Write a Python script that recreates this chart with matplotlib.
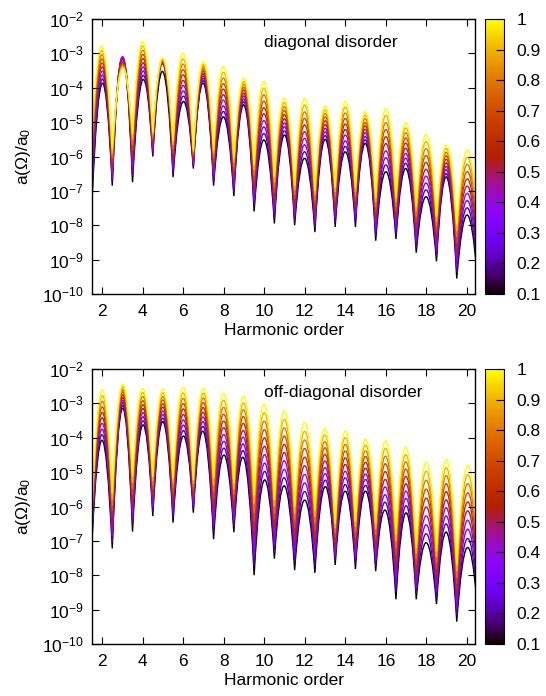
import numpy as np
import matplotlib
matplotlib.use("Agg")
import matplotlib.pyplot as plt
from matplotlib.path import Path
from matplotlib.patches import PathPatch
from matplotlib import colors, cm, ticker

plt.rcParams['font.family'] = ['Liberation Sans', 'DejaVu Sans']
plt.rcParams['mathtext.fontset'] = 'custom'
plt.rcParams['mathtext.rm'] = 'Liberation Sans'
plt.rcParams['mathtext.it'] = 'Liberation Sans:italic'
plt.rcParams['mathtext.default'] = 'regular'

# ---------------- data ----------------
disorder = [0.1, 0.2, 0.3, 0.4, 0.5, 0.6, 0.7, 0.8, 0.9, 1.0]
orders = list(range(2, 21))                       # harmonic peaks
trough_orders = [o + 0.5 for o in range(1, 21)]   # 1.5 ... 20.5
xticks = [2, 4, 6, 8, 10, 12, 14, 16, 18, 20]
ytick_exp = [-10, -9, -8, -7, -6, -5, -4, -3, -2]
cbar_ticks = [0.1, 0.2, 0.3, 0.4, 0.5, 0.6, 0.7, 0.8, 0.9, 1.0]

# log10 a(Omega)/a0 at each harmonic peak; each row: W = 0.1 ... 1.0
diag_peak_log = [
    [-3.87, -3.75, -3.63, -3.51, -3.39, -3.28, -3.16, -3.04, -2.92, -2.80],
    [-3.12, -3.10, -3.10, -3.12, -3.18, -3.25, -3.30, -3.35, -3.40, -3.43],
    [-3.77, -3.65, -3.52, -3.40, -3.28, -3.15, -3.03, -2.91, -2.78, -2.66],
    [-3.53, -3.30, -3.18, -3.16, -3.20, -3.25, -3.25, -3.20, -3.16, -3.14],
    [-4.40, -4.24, -4.09, -3.93, -3.78, -3.62, -3.47, -3.31, -3.16, -3.00],
    [-3.87, -3.80, -3.73, -3.66, -3.59, -3.52, -3.45, -3.38, -3.31, -3.24],
    [-4.85, -4.69, -4.53, -4.36, -4.20, -4.04, -3.88, -3.72, -3.55, -3.39],
    [-4.50, -4.41, -4.33, -4.24, -4.16, -4.07, -3.99, -3.90, -3.82, -3.73],
    [-5.52, -5.33, -5.14, -4.95, -4.76, -4.58, -4.39, -4.20, -4.01, -3.82],
    [-5.37, -5.25, -5.13, -5.02, -4.90, -4.78, -4.66, -4.55, -4.43, -4.31],
    [-6.05, -5.86, -5.66, -5.47, -5.28, -5.08, -4.89, -4.70, -4.50, -4.31],
    [-5.50, -5.39, -5.28, -5.18, -5.07, -4.96, -4.85, -4.75, -4.64, -4.53],
    [-5.86, -5.70, -5.54, -5.37, -5.21, -5.05, -4.89, -4.73, -4.56, -4.40],
    [-5.62, -5.52, -5.42, -5.31, -5.21, -5.11, -5.01, -4.90, -4.80, -4.70],
    [-6.44, -6.24, -6.03, -5.83, -5.62, -5.42, -5.21, -5.01, -4.80, -4.60],
    [-6.35, -6.20, -6.05, -5.91, -5.76, -5.61, -5.46, -5.31, -5.17, -5.02],
    [-7.17, -6.97, -6.77, -6.57, -6.37, -6.17, -5.97, -5.77, -5.57, -5.37],
    [-6.60, -6.50, -6.39, -6.29, -6.19, -6.08, -5.98, -5.88, -5.77, -5.67],
    [-7.70, -7.49, -7.28, -7.07, -6.86, -6.65, -6.44, -6.23, -6.02, -5.81],
]
# log10 values at the minima between harmonics (1.5, 2.5, ..., 20.5)
diag_trough_log = [
    [-7.30, -7.08, -6.86, -6.63, -6.41, -6.19, -5.97, -5.74, -5.52, -5.30],
    [-6.85, -6.73, -6.62, -6.50, -6.38, -6.27, -6.15, -6.03, -5.92, -5.80],
    [-6.75, -6.59, -6.44, -6.28, -6.13, -5.97, -5.82, -5.66, -5.51, -5.35],
    [-6.00, -5.92, -5.84, -5.77, -5.69, -5.61, -5.53, -5.46, -5.38, -5.30],
    [-6.60, -6.48, -6.37, -6.25, -6.13, -6.02, -5.90, -5.78, -5.67, -5.55],
    [-6.35, -6.29, -6.23, -6.17, -6.11, -6.04, -5.98, -5.92, -5.86, -5.80],
    [-6.85, -6.73, -6.62, -6.50, -6.38, -6.27, -6.15, -6.03, -5.92, -5.80],
    [-7.15, -7.03, -6.91, -6.78, -6.66, -6.54, -6.42, -6.30, -6.17, -6.05],
    [-7.60, -7.45, -7.30, -7.15, -7.00, -6.85, -6.70, -6.55, -6.40, -6.25],
    [-7.95, -7.80, -7.65, -7.50, -7.35, -7.20, -7.05, -6.90, -6.75, -6.60],
    [-8.00, -7.87, -7.74, -7.62, -7.49, -7.36, -7.23, -7.11, -6.98, -6.85],
    [-8.20, -8.07, -7.93, -7.80, -7.67, -7.53, -7.40, -7.27, -7.13, -7.00],
    [-8.05, -7.92, -7.79, -7.67, -7.54, -7.41, -7.28, -7.16, -7.03, -6.90],
    [-8.05, -7.92, -7.79, -7.67, -7.54, -7.41, -7.28, -7.16, -7.03, -6.90],
    [-8.45, -8.31, -8.17, -8.03, -7.89, -7.76, -7.62, -7.48, -7.34, -7.20],
    [-8.40, -8.27, -8.13, -8.00, -7.87, -7.73, -7.60, -7.47, -7.33, -7.20],
    [-8.80, -8.65, -8.50, -8.35, -8.20, -8.05, -7.90, -7.75, -7.60, -7.45],
    [-9.05, -8.91, -8.76, -8.62, -8.47, -8.33, -8.18, -8.04, -7.89, -7.75],
    [-9.55, -9.38, -9.21, -9.03, -8.86, -8.69, -8.52, -8.34, -8.17, -8.00],
    [-9.40, -9.20, -9.00, -8.80, -8.60, -8.40, -8.20, -8.00, -7.80, -7.60],
]

off_peak_log = [
    [-4.07, -3.91, -3.75, -3.58, -3.42, -3.26, -3.10, -2.94, -2.77, -2.61],
    [-3.14, -3.06, -2.98, -2.91, -2.83, -2.75, -2.67, -2.60, -2.52, -2.44],
    [-3.63, -3.51, -3.39, -3.27, -3.15, -3.04, -2.92, -2.80, -2.68, -2.56],
    [-3.53, -3.43, -3.32, -3.22, -3.11, -3.01, -2.90, -2.80, -2.69, -2.59],
    [-3.95, -3.79, -3.63, -3.48, -3.32, -3.16, -3.00, -2.85, -2.69, -2.53],
    [-3.82, -3.68, -3.54, -3.40, -3.26, -3.12, -2.98, -2.84, -2.70, -2.56],
    [-4.50, -4.30, -4.10, -3.90, -3.70, -3.51, -3.31, -3.11, -2.91, -2.71],
    [-4.60, -4.40, -4.20, -4.00, -3.80, -3.59, -3.39, -3.19, -2.99, -2.79],
    [-5.23, -4.98, -4.74, -4.49, -4.25, -4.00, -3.76, -3.51, -3.27, -3.02],
    [-5.40, -5.16, -4.92, -4.67, -4.43, -4.19, -3.95, -3.71, -3.46, -3.22],
    [-5.81, -5.56, -5.31, -5.06, -4.81, -4.56, -4.31, -4.06, -3.81, -3.56],
    [-5.42, -5.23, -5.04, -4.86, -4.67, -4.48, -4.29, -4.11, -3.92, -3.73],
    [-5.55, -5.36, -5.16, -4.97, -4.77, -4.58, -4.38, -4.19, -3.99, -3.80],
    [-5.55, -5.38, -5.21, -5.05, -4.88, -4.71, -4.54, -4.38, -4.21, -4.04],
    [-6.12, -5.89, -5.67, -5.44, -5.22, -4.99, -4.76, -4.54, -4.31, -4.09],
    [-6.18, -5.97, -5.76, -5.55, -5.34, -5.12, -4.91, -4.70, -4.49, -4.28],
    [-7.05, -6.79, -6.53, -6.27, -6.01, -5.75, -5.49, -5.23, -4.97, -4.71],
    [-6.75, -6.51, -6.28, -6.04, -5.81, -5.57, -5.34, -5.10, -4.87, -4.63],
    [-7.20, -6.94, -6.67, -6.41, -6.14, -5.88, -5.62, -5.35, -5.09, -4.82],
]
off_trough_log = [
    [-7.00, -6.88, -6.76, -6.63, -6.51, -6.39, -6.27, -6.14, -6.02, -5.90],
    [-7.22, -7.04, -6.86, -6.69, -6.51, -6.33, -6.15, -5.98, -5.80, -5.62],
    [-6.73, -6.55, -6.37, -6.20, -6.02, -5.84, -5.66, -5.49, -5.31, -5.13],
    [-6.28, -6.15, -6.02, -5.90, -5.77, -5.64, -5.51, -5.39, -5.26, -5.13],
    [-6.47, -6.33, -6.18, -6.04, -5.90, -5.75, -5.61, -5.47, -5.32, -5.18],
    [-6.18, -6.07, -5.97, -5.86, -5.76, -5.65, -5.55, -5.44, -5.34, -5.23],
    [-6.95, -6.75, -6.56, -6.36, -6.16, -5.97, -5.77, -5.57, -5.38, -5.18],
    [-6.75, -6.59, -6.43, -6.28, -6.12, -5.96, -5.80, -5.65, -5.49, -5.33],
    [-8.00, -7.74, -7.48, -7.22, -6.96, -6.71, -6.45, -6.19, -5.93, -5.67],
    [-7.52, -7.33, -7.14, -6.95, -6.76, -6.57, -6.38, -6.19, -6.00, -5.81],
    [-7.85, -7.64, -7.44, -7.23, -7.03, -6.82, -6.62, -6.41, -6.21, -6.00],
    [-7.93, -7.73, -7.52, -7.32, -7.12, -6.91, -6.71, -6.51, -6.30, -6.10],
    [-7.70, -7.57, -7.43, -7.30, -7.17, -7.03, -6.90, -6.77, -6.63, -6.50],
    [-7.82, -7.67, -7.52, -7.36, -7.21, -7.06, -6.91, -6.76, -6.60, -6.45],
    [-7.88, -7.73, -7.57, -7.42, -7.27, -7.11, -6.96, -6.81, -6.65, -6.50],
    [-8.70, -8.49, -8.28, -8.07, -7.86, -7.64, -7.43, -7.22, -7.01, -6.80],
    [-8.70, -8.53, -8.37, -8.20, -8.03, -7.87, -7.70, -7.53, -7.37, -7.20],
    [-8.84, -8.67, -8.50, -8.33, -8.16, -7.98, -7.81, -7.64, -7.47, -7.30],
    [-9.35, -9.17, -8.98, -8.80, -8.62, -8.43, -8.25, -8.07, -7.88, -7.70],
    [-8.80, -8.58, -8.36, -8.13, -7.91, -7.69, -7.47, -7.24, -7.02, -6.80],
]

# ---------------- figure ----------------
W, H = 546, 696
fig = plt.figure(figsize=(W / 100, H / 100), dpi=100)
cmap = plt.get_cmap('gnuplot')
norm = colors.Normalize(vmin=0.1, vmax=1.0)
FS = 12.5


def px_rect(x0, y0, x1, y1):
    return [x0 / W, 1 - y1 / H, (x1 - x0) / W, (y1 - y0) / H]


def draw_panel(rect, crect, peaks, troughs, title):
    ax = fig.add_axes(px_rect(*rect))
    ax.set_yscale('log')
    P = np.array(peaks).T
    T = np.array(troughs).T
    for i, w in enumerate(disorder):
        verts = [(trough_orders[0], 10 ** T[i, 0])]
        codes = [Path.MOVETO]
        for k, h in enumerate(orders):
            ctrl = 2 * P[i, k] - 0.5 * (T[i, k] + T[i, k + 1])
            verts += [(h, 10 ** ctrl), (trough_orders[k + 1], 10 ** T[i, k + 1])]
            codes += [Path.CURVE3, Path.CURVE3]
        ax.add_patch(PathPatch(Path(verts, codes), fill=False,
                               edgecolor=cmap(norm(w)), lw=1.0))
    ax.set_xlim(1.5, 20.4)
    ax.set_ylim(1e-10, 1e-2)
    ax.set_xticks(xticks)
    ax.set_yticks([10.0 ** e for e in ytick_exp])
    ax.yaxis.set_major_formatter(ticker.LogFormatterMathtext())
    ax.yaxis.set_minor_locator(ticker.LogLocator(base=10, subs=np.arange(2, 10)))
    ax.yaxis.set_minor_formatter(ticker.NullFormatter())
    ax.tick_params(which='both', direction='in', top=True, right=True,
                   labelsize=FS, width=0.8)
    ax.tick_params(which='major', length=5)
    ax.tick_params(which='minor', length=2.5)
    ax.tick_params(axis='x', pad=7)
    ax.tick_params(axis='y', pad=6)
    for s in ax.spines.values():
        s.set_linewidth(1.0)
    ax.set_xlabel('Harmonic order', fontsize=FS, labelpad=3)
    ax.set_ylabel(r'a($\Omega$)/a$_0$', fontsize=FS)
    ax.yaxis.set_label_coords(-0.18, 0.5)
    ax.yaxis.label.set_verticalalignment('center')
    ax.text(0.449, 0.913, title, transform=ax.transAxes, fontsize=FS,
            ha='left', va='center')

    cax = fig.add_axes(px_rect(*crect))
    sm = cm.ScalarMappable(norm=norm, cmap=cmap)
    cb = fig.colorbar(sm, cax=cax, ticks=cbar_ticks)
    cb.ax.yaxis.set_major_formatter(ticker.FuncFormatter(lambda v, p: f'{v:g}'))
    cb.ax.tick_params(direction='in', length=6, width=0.8, labelsize=FS, pad=9)
    cb.outline.set_linewidth(0.8)
    return ax


draw_panel((92, 19, 475, 294), (485, 19, 504, 294),
           diag_peak_log, diag_trough_log, 'diagonal disorder')
draw_panel((92, 369, 475, 644), (485, 369, 504, 644),
           off_peak_log, off_trough_log, 'off-diagonal disorder')

fig.savefig('out.png', dpi=100)
